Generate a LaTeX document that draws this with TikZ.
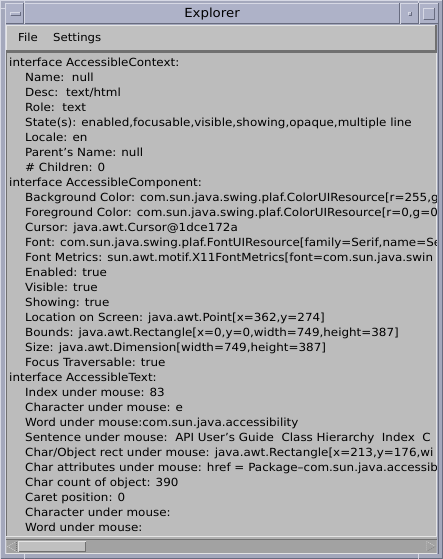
\documentclass[tikz,border=0pt]{standalone}
\usepackage{fontspec}
\setmainfont{DejaVu Sans}[FakeStretch=1.065]
\usepackage{xcolor}
\usepackage{tikz}
\usetikzlibrary{positioning,calc}

\definecolor{framebg}{RGB}{164,168,188}
\definecolor{titlebg}{RGB}{174,178,200}
\definecolor{framehi}{RGB}{214,216,228}
\definecolor{framelo}{RGB}{104,108,128}
\definecolor{panelbg}{RGB}{192,192,192}
\definecolor{panello}{RGB}{112,112,112}
\definecolor{panelhi}{RGB}{228,228,228}
\definecolor{troughbg}{RGB}{162,162,162}

\tikzset{
  txtline/.style={anchor=base west, inner sep=0pt, font=\fontsize{11.2}{13}\selectfont},
  menuitem/.style={anchor=base west, inner sep=0pt, font=\fontsize{11}{13}\selectfont},
}

\begin{document}
\begin{tikzpicture}[x=1pt, y=-1pt]
  \useasboundingbox (0,0) rectangle (443,559);

  % Window frame
  \fill[framebg] (0,0) rectangle (443,559);
  \draw[framehi] (0.5,0.5) -- (442.5,0.5);
  \draw[framehi] (0.5,0.5) -- (0.5,558.5);
  \draw[framelo] (442.5,0.5) -- (442.5,558.5) -- (0.5,558.5);
  \draw[framehi] (5.5,3) -- (5.5,554);
  \draw[framelo] (438.5,3) -- (438.5,554);
  \draw[framehi] (24.5,0) -- (24.5,8);
  \draw[framehi] (418.5,0) -- (418.5,8);
  \draw[framehi] (0,8.5) -- (5,8.5);
  \draw[framehi] (24.5,551) -- (24.5,559);
  \draw[framehi] (418.5,551) -- (418.5,559);

  % Title bar
  \fill[titlebg] (6,3) rectangle (438,24);
  \draw[framehi] (6,3.5) -- (438,3.5);
  \draw[framelo] (6,23.5) -- (438,23.5);
  \draw[framelo] (23.5,3) -- (23.5,24);
  \draw[framehi] (24.5,3) -- (24.5,24);
  \draw[framelo] (399.5,3) -- (399.5,24);
  \draw[framehi] (400.5,3) -- (400.5,24);
  \draw[framelo] (418.5,3) -- (418.5,24);
  \draw[framehi] (419.5,3) -- (419.5,24);
  \node[font=\fontsize{12.5}{14}\selectfont, inner sep=0pt] (title) at (212,14.5) {Explorer};

  % Window buttons
  \draw[framehi] (10.5,15.5) -- (10.5,12.5) -- (20.5,12.5);
  \draw[framelo] (10.5,15.5) -- (20.5,15.5) -- (20.5,12.5);
  \draw[framehi] (408.5,15.5) -- (408.5,12.5) -- (411.5,12.5);
  \draw[framelo] (408.5,15.5) -- (411.5,15.5) -- (411.5,12.5);
  \draw[framehi] (423.5,19.5) -- (423.5,8.5) -- (434.5,8.5);
  \draw[framelo] (423.5,19.5) -- (434.5,19.5) -- (434.5,8.5);

  % Menu bar
  \fill[panelbg] (6,25) rectangle (437,53);
  \draw[panelhi] (6.5,52) -- (6.5,25.5) -- (437,25.5);
  \fill[panello] (6,50) rectangle (437,53);
  \fill[panello] (435,25) rectangle (437,53);
  \node[menuitem] (file) at (18,42) {File};
  \node[menuitem] (settings) at (53,42) {Settings};

  % Text area
  \fill[panelbg!98!black] (6,53) rectangle (437,536);
  \draw[panello] (6.5,53) -- (6.5,536);
  \draw[panelhi] (436.5,53) -- (436.5,537);
  \draw[panelhi] (6,536.5) -- (437,536.5);

  \begin{scope}
    \clip (7,53) rectangle (436,536);
    \node[txtline] (ctx) at (9,66.5) {interface AccessibleContext:};
    \node[txtline] (name) at (25,81.5) {Name:\ \ null};
    \node[txtline] (desc) at (25,96.5) {Desc:\ \ text/html};
    \node[txtline] (role) at (25,111.5) {Role:\ \ text};
    \node[txtline] (state) at (25,126.5) {State(s): enabled,focusable,visible,showing,opaque,multiple line};
    \node[txtline] (locale) at (25,141.5) {Locale: en};
    \node[txtline] (parent) at (25,156.5) {Parent’s Name: null};
    \node[txtline] (children) at (25,171.5) {\# Children: 0};

    \node[txtline] (comp) at (9,186.5) {interface AccessibleComponent:};
    \node[txtline] (bgcol) at (25,201.5) {Background Color: com.sun.java.swing.plaf.ColorUIResource[r=255,g};
    \node[txtline] (fgcol) at (25,216.5) {Foreground Color: com.sun.java.swing.plaf.ColorUIResource[r=0,g=0,};
    \node[txtline] (cursor) at (25,231.5) {Cursor: java.awt.Cursor@1dce172a};
    \node[txtline] (font) at (25,246.5) {Font: com.sun.java.swing.plaf.FontUIResource[family=Serif,name=Se};
    \node[txtline] (metrics) at (25,261.5) {Font Metrics: sun.awt.motif.X11FontMetrics[font=com.sun.java.swin};
    \node[txtline] (enabled) at (25,276.5) {Enabled: true};
    \node[txtline] (visible) at (25,291.5) {Visible: true};
    \node[txtline] (showing) at (25,306.5) {Showing: true};
    \node[txtline] (location) at (25,321.5) {Location on Screen: java.awt.Point[x=362,y=274]};
    \node[txtline] (bounds) at (25,336.5) {Bounds: java.awt.Rectangle[x=0,y=0,width=749,height=387]};
    \node[txtline] (size) at (25,351.5) {Size: java.awt.Dimension[width=749,height=387]};
    \node[txtline] (focus) at (25,366.5) {Focus Traversable: true};

    \node[txtline] (text) at (9,381.5) {interface AccessibleText:};
    \node[txtline] (index) at (25,396.5) {Index under mouse: 83};
    \node[txtline] (charm) at (25,411.5) {Character under mouse: e};
    \node[txtline] (wordm) at (25,426.5) {Word under mouse:com.sun.java.accessibility};
    \node[txtline] (sentm) at (25,441.5) {Sentence under mouse:\ \ API User’s Guide\ \ Class Hierarchy\ \ Index\ \ C};
    \node[txtline] (rectm) at (25,456.5) {Char/Object rect under mouse: java.awt.Rectangle[x=213,y=176,wi};
    \node[txtline] (attrm) at (25,471.5) {Char attributes under mouse: href = Package–com.sun.java.accessib};
    \node[txtline] (count) at (25,486.5) {Char count of object: 390};
    \node[txtline] (caret) at (25,501.5) {Caret position: 0};
    \node[txtline] (charc) at (25,516.5) {Character under mouse:};
    \node[txtline] (wordc) at (25,531.5) {Word under mouse:};
  \end{scope}

  % Horizontal scroll bar
  \fill[panelbg!92!black] (6,537) rectangle (437,553);
  \draw[panello] (6,539.5) -- (437,539.5);
  \fill[troughbg] (7,540) rectangle (436,552.5);
  \draw[panelhi] (6,553) -- (437,553);
  \fill[panelbg] (18,541) rectangle (86,552);
  \draw[panelhi] (18.5,552) -- (18.5,541.5) -- (86,541.5);
  \draw[panello] (18.5,551.5) -- (85.5,551.5) -- (85.5,541.5);
  \draw[panelhi, dash pattern=on 1pt off 1pt] (16.5,541.5) -- (7.5,546.5) -- (16.5,551.5);
  \draw[panello, dash pattern=on 1pt off 1pt] (16.5,541.5) -- (16.5,551.5);
  \draw[panelhi, dash pattern=on 1pt off 1pt] (426.5,551.5) -- (426.5,541.5) -- (435.5,546.5);
  \draw[panello, dash pattern=on 1pt off 1pt] (435.5,546.5) -- (426.5,551.5);
\end{tikzpicture}
\end{document}
